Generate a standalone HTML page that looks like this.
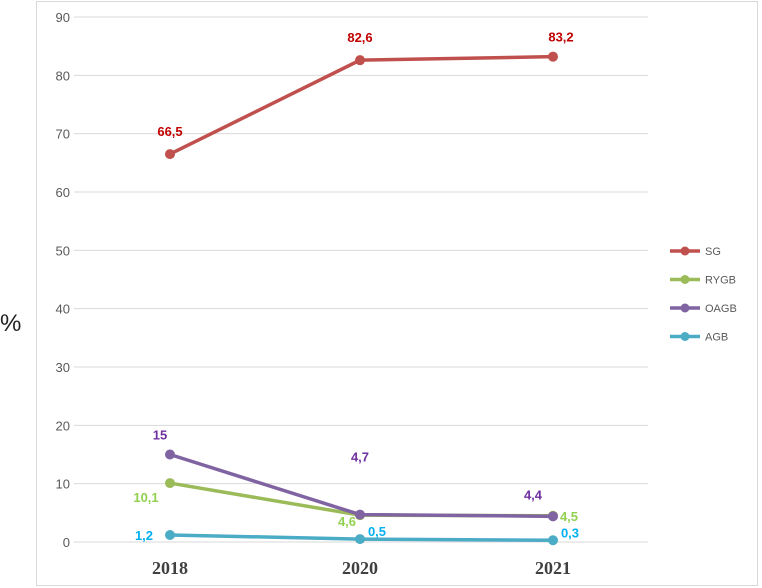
<!DOCTYPE html>
<html><head><meta charset="utf-8"><style>
body{margin:0;background:#fff;}
svg{display:block;font-family:"Liberation Sans",sans-serif;}
</style></head><body>
<svg id="chart" width="762" height="588">
<rect x="36.5" y="1.5" width="721" height="584" fill="#fff" stroke="#d9d9d9"/>
<text x="0" y="331" font-size="24" fill="#222">%</text>
<g id="grid"></g><g id="xlab"></g><g id="series"></g><g id="legend"></g>
</svg>
<script>
const years=["2018","2020","2021"];
const sg=[66.5,82.6,83.2];
const rygb=[10.1,4.6,4.5];
const oagb=[15,4.7,4.4];
const agb=[1.2,0.5,0.3];
const yTicks=[0,10,20,30,40,50,60,70,80,90];
const NS="http://www.w3.org/2000/svg";
const xPos=[170,360,553];
function x(i){return xPos[i];}
function y(v){return 542-v*525/90;}
function mk(t,a,p){const e=document.createElementNS(NS,t);for(const k in a)e.setAttribute(k,a[k]);if(p)p.appendChild(e);return e;}
const grid=document.getElementById('grid');
yTicks.forEach(t=>{
 const l=mk('line',{x1:74,x2:648,y1:y(t),y2:y(t),stroke:'#d9d9d9','stroke-width':1},grid);
 
 
 const tx=mk('text',{x:70,y:y(t)+5,'text-anchor':'end','font-size':13,fill:'#595959'},grid);
 tx.textContent=t;
 
 
});
const xl=document.getElementById('xlab');
years.forEach((yr,i)=>{
 const t=mk('text',{x:x(i),y:574,'text-anchor':'middle','font-size':18,'font-weight':'bold',fill:'#404040','font-family':'Liberation Serif, serif'},xl);
 t.textContent=yr;
 
 
});
const fmt=v=>String(v).replace('.',',');
const series=[
 {name:'SG',vals:sg,c:'#c0504d',lc:'#c00000',off:[[0,-23],[0,-23],[8,-20]]},
 {name:'RYGB',vals:rygb,c:'#9bbb59',lc:'#92d050',off:[[-24,14],[-13,6],[16,0]]},
 {name:'OAGB',vals:oagb,c:'#8064a2',lc:'#7030a0',off:[[-10,-20],[0,-58],[-20,-22]]},
 {name:'AGB',vals:agb,c:'#4bacc6',lc:'#00b0f0',off:[[-26,0],[17,-8],[17,-8]]}
];
const sg_=document.getElementById('series');
series.forEach(s=>{
 const g=mk('g',{},sg_);
 
 
 mk('polyline',{points:s.vals.map((v,i)=>x(i)+','+y(v)).join(' '),fill:'none',stroke:s.c,'stroke-width':3.5},g);
 s.vals.forEach((v,i)=>{
  const c=mk('circle',{cx:x(i),cy:y(v),r:5,fill:s.c},g);
  
  
  const t=mk('text',{x:x(i)+s.off[i][0],y:y(v)+s.off[i][1]+5,'text-anchor':'middle','font-size':13,'font-weight':'bold',fill:s.lc},g);
  t.textContent=fmt(v);
  
  
 });
});
const lg=document.getElementById('legend');
series.forEach((s,i)=>{
 const ly=251+i*28.5;
 const g=mk('g',{},lg);
 
 
 mk('line',{x1:670,x2:700,y1:ly,y2:ly,stroke:s.c,'stroke-width':3.5},g);
 mk('circle',{cx:685,cy:ly,r:4.5,fill:s.c},g);
 const t=mk('text',{x:705,y:ly+4,'font-size':11,fill:'#595959'},g);
 t.textContent=s.name;
});
</script>
</body></html>
